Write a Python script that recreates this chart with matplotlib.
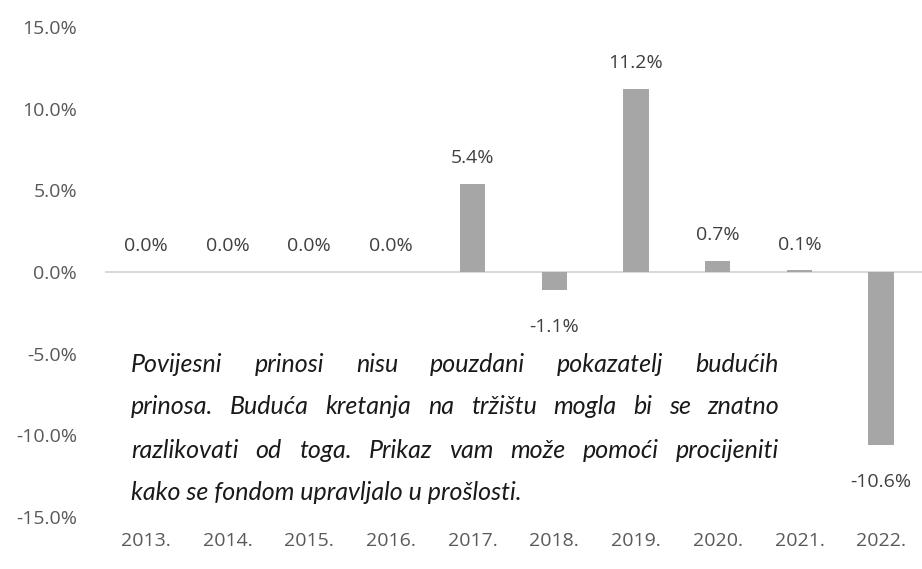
import matplotlib
matplotlib.use("Agg")
import matplotlib.pyplot as plt
import numpy as np

years = ["2013.", "2014.", "2015.", "2016.", "2017.", "2018.", "2019.", "2020.", "2021.", "2022."]
returns = [0.0, 0.0, 0.0, 0.0, 5.4, -1.1, 11.2, 0.7, 0.1, -10.6]
y_ticks = [15, 10, 5, 0, -5, -10, -15]

note_lines = [
    "Povijesni prinosi nisu pouzdani pokazatelj budućih",
    "prinosa. Buduća kretanja na tržištu mogla bi se znatno",
    "razlikovati od toga. Prikaz vam može pomoći procijeniti",
    "kako se fondom upravljalo u prošlosti.",
]

plt.rcParams["font.family"] = ["Open Sans", "DejaVu Sans"]

fig = plt.figure(figsize=(9.22, 5.69), dpi=100)
ax = fig.add_axes([105 / 922, 1 - 517 / 569, 1 - 105 / 922, 490 / 569])

x = np.arange(len(years))
ax.bar(x, returns, width=0.31, color="#a6a6a6", zorder=2)
ax.axhline(0, color="#d9d9d9", lw=1.5, zorder=1)

ax.set_xlim(-0.5, len(years) - 0.5)
ax.set_ylim(-15, 15)
ax.set_yticks(y_ticks)
ax.set_yticklabels([f"{t:.1f}%" for t in y_ticks])
ax.set_xticks(x)
ax.set_xticklabels(years)
ax.tick_params(axis="y", length=0, pad=20, labelsize=14, labelcolor="#595959")
ax.tick_params(axis="x", length=0, pad=11, labelsize=14, labelcolor="#595959")
for s in ax.spines.values():
    s.set_visible(False)

# value labels
for xi, v in zip(x, returns):
    if v >= 0:
        ax.annotate(f"{v:.1f}%", (xi, v), xytext=(0, 12), textcoords="offset points",
                    ha="center", va="bottom", fontsize=14, color="#404040")
    else:
        ax.annotate(f"{v:.1f}%", (xi, v), xytext=(0, -20), textcoords="offset points",
                    ha="center", va="top", fontsize=14, color="#404040")

# justified italic note
renderer = fig.canvas.get_renderer()
left_px, right_px = 131, 779
line_y = [365, 407, 450, 492]
note_font = dict(family=["Lato", "DejaVu Sans"], fontsize=18, style="italic",
                 color="#1a1a1a", va="center", ha="left")

def measure(s):
    t = fig.text(0, 0, s, **note_font)
    w = t.get_window_extent(renderer).width
    t.remove()
    return w

# shrink font if the widest line does not fit
widest = max(measure(l) for l in note_lines)
if widest > right_px - left_px:
    note_font["fontsize"] *= (right_px - left_px - 6) / widest

for i, (line, yp) in enumerate(zip(note_lines, line_y)):
    yf = 1 - yp / 569
    words = line.split(" ")
    if i == len(note_lines) - 1:
        fig.text(left_px / 922, yf, line, **note_font)
        continue
    widths = [measure(w) for w in words]
    gap = (right_px - left_px - sum(widths)) / (len(words) - 1)
    pos = left_px
    for w, wd in zip(words, widths):
        fig.text(pos / 922, yf, w, **note_font)
        pos += wd + gap

fig.savefig("out.png", dpi=100)
